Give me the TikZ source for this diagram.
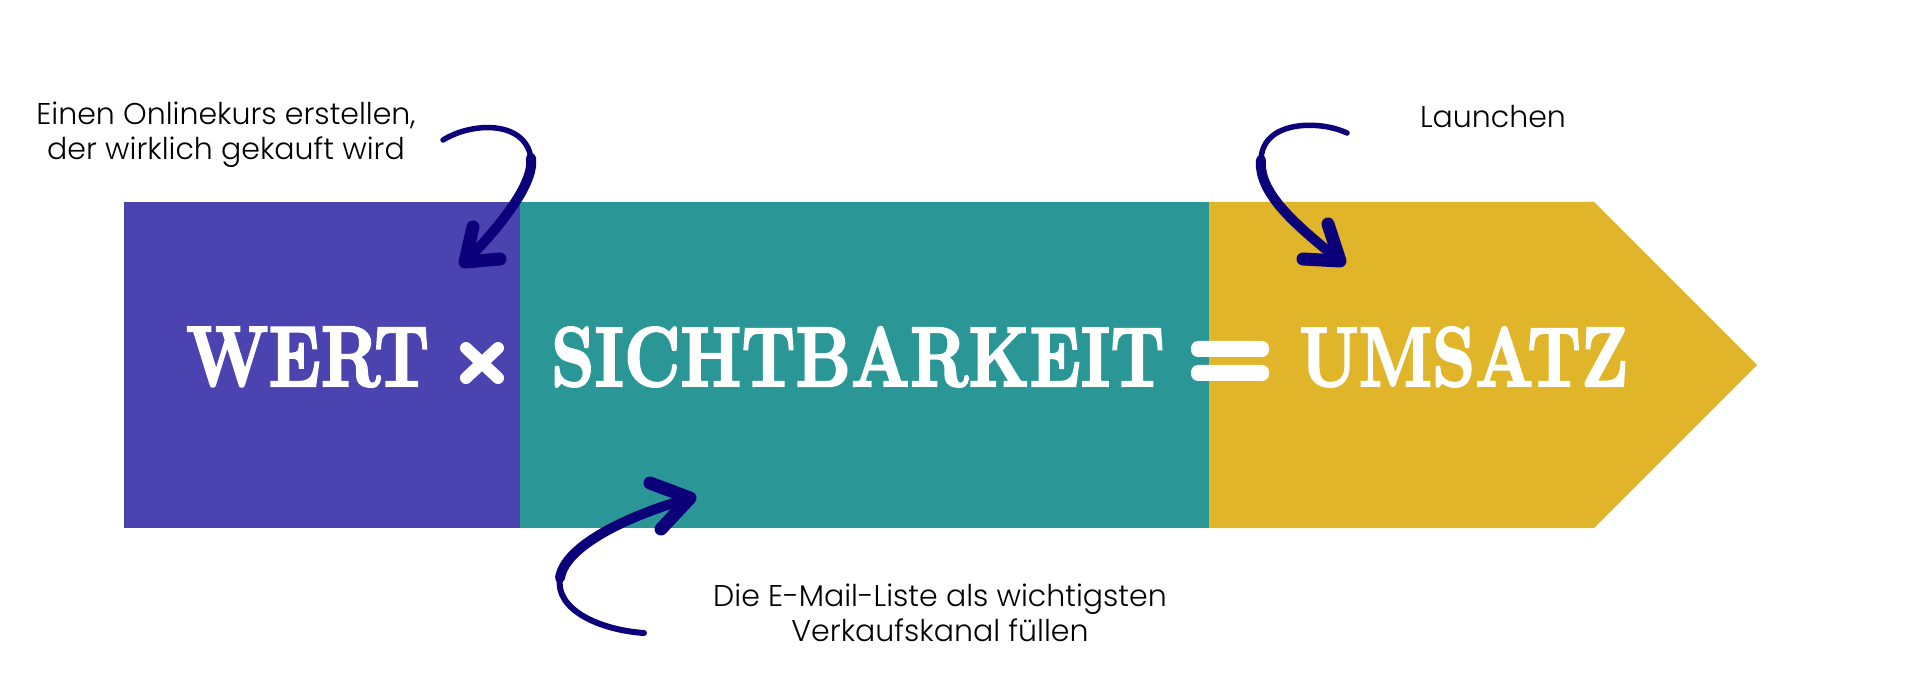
\documentclass[tikz,border=0pt]{standalone}
\usepackage{fontspec}
\usepackage{graphicx}
\setsansfont{Poppins Light}
\newfontfamily\bigserif{lmroman10-bold}[Extension=.otf, FakeBold=2.5]
\usetikzlibrary{positioning}
\definecolor{wertblue}{RGB}{75,67,176}
\definecolor{sichtteal}{RGB}{43,150,150}
\definecolor{umsatzgold}{RGB}{224,181,41}
\definecolor{inkblue}{RGB}{12,0,122}

\begin{document}
\begin{tikzpicture}[x=1pt, y=-1pt,
    note/.style={font=\sffamily\fontsize{30}{35}\selectfont, align=center, inner sep=0pt, anchor=north},
    word/.style={text=white, inner sep=0pt, anchor=base west},
    scribble/.style={draw=inkblue, line cap=round, line join=round}]
    \useasboundingbox (0,0) rectangle (1920,700);

    % Band
    \fill[wertblue] (124,202) rectangle (520,528);
    \fill[sichtteal] (520,202) rectangle (1209,528);
    \fill[umsatzgold] (1209,202) -- (1594,202) -- (1757,365) -- (1594,528) -- (1209,528) -- cycle;

    % Words
    \node[word] (wert) at (186,386) {\resizebox{243pt}{59pt}{\bigserif WERT}};
    \node[word] (sicht) at (551,386) {\resizebox{613pt}{59pt}{\bigserif SICHTBARKEIT}};
    \node[word] (umsatz) at (1299,386) {\resizebox{329pt}{59pt}{\bigserif UMSATZ}};

    % Times and equals
    \draw[white, line width=12pt, line cap=round] (466,348) -- (498,378) (498,348) -- (466,378);
    \fill[white, rounded corners=7pt] (1191,341) rectangle (1269,357);
    \fill[white, rounded corners=7pt] (1191,365) rectangle (1269,381);

    % Notes
    \node[note] (kurs) at (226,102) {Einen Onlinekurs erstellen,\\der wirklich gekauft wird};
    \node[note] (launch) at (1493,105) {Launchen};
    \node[note] (liste) at (940,584) {Die E-Mail-Liste als wichtigsten\\Verkaufskanal füllen};

    % Arrow to WERT
    \coordinate (kurs tail) at (443,140);
    \coordinate (kurs bend) at (531,158);
    \coordinate (kurs tip) at (465,262);
    \draw[scribble, line width=5.5pt] (kurs tail) .. controls (472,122) and (525,120) .. (kurs bend);
    \draw[scribble, line width=10pt] (kurs bend) .. controls (535,185) and (495,232) .. (kurs tip);
    \draw[scribble, line width=13pt] (473,227) -- (kurs tip) -- (500,259);

    % Arrow to UMSATZ
    \coordinate (launch tail) at (1347,133);
    \coordinate (launch bend) at (1261,160);
    \coordinate (launch tip) at (1340,261);
    \draw[scribble, line width=5.5pt] (launch tail) .. controls (1320,120) and (1262,120) .. (launch bend);
    \draw[scribble, line width=10pt] (launch bend) .. controls (1258,195) and (1300,228) .. (launch tip);
    \draw[scribble, line width=13pt] (1328,224) -- (launch tip) -- (1303,259);

    % Arrow to SICHTBARKEIT
    \coordinate (liste tail) at (644,633);
    \coordinate (liste bend) at (560,578);
    \coordinate (liste tip) at (690,498);
    \draw[scribble, line width=6pt] (liste tail) .. controls (600,630) and (555,610) .. (liste bend);
    \draw[scribble, line width=10pt] (liste bend) .. controls (565,545) and (630,515) .. (liste tip);
    \draw[scribble, line width=13pt] (650,483) -- (liste tip) -- (661,529);
\end{tikzpicture}
\end{document}
